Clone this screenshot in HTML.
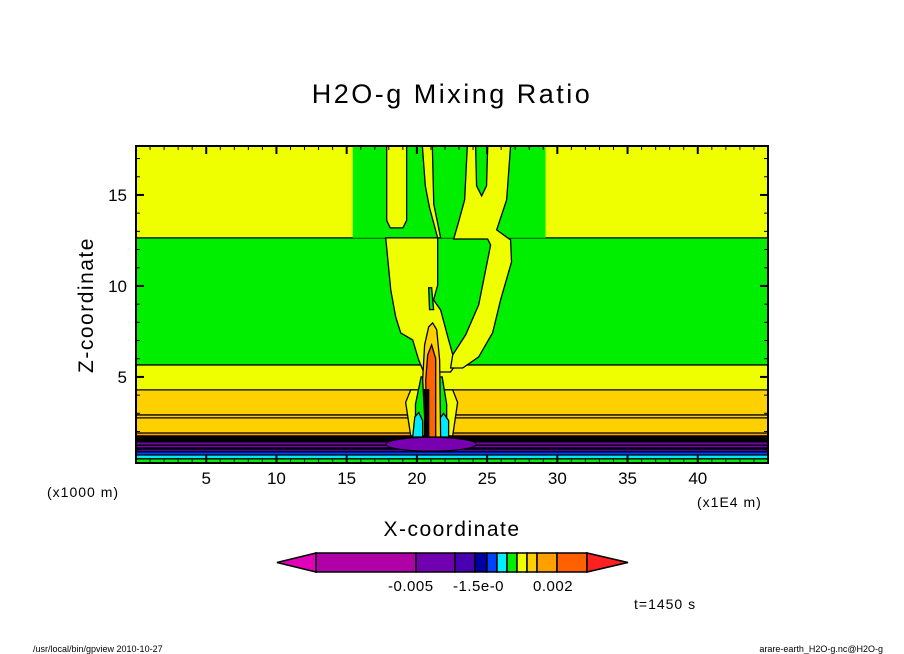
<!DOCTYPE html>
<html><head><meta charset="utf-8"><style>
html,body{margin:0;padding:0;background:#fff;}
svg{display:block;font-family:"Liberation Sans",sans-serif;}
</style></head><body>
<svg id="chart" width="904" height="654" viewBox="0 0 904 654" xmlns="http://www.w3.org/2000/svg">
<rect width="904" height="654" fill="#fff"/>
<text x="452" y="103" font-size="27" text-anchor="middle" letter-spacing="2.5">H2O-g Mixing Ratio</text>
<g id="plot"></g>
<g id="axes"></g>
<text x="47" y="497" font-size="14" letter-spacing="1">(x1000 m)</text>
<text x="697" y="507" font-size="14" letter-spacing="1">(x1E4 m)</text>
<text x="452" y="536" font-size="21" text-anchor="middle" letter-spacing="1.5">X-coordinate</text>
<text x="93" y="305" font-size="21" text-anchor="middle" letter-spacing="1.5" transform="rotate(-90 93 305)">Z-coordinate</text>
<g id="cbar"></g>
<text x="634" y="609" font-size="14" letter-spacing="1">t=1450 s</text>
<text x="33" y="652" font-size="9">/usr/local/bin/gpview  2010-10-27</text>
<text x="883" y="652" font-size="9" text-anchor="end">arare-earth_H2O-g.nc@H2O-g</text>
</svg>
<script>
// ---- data ----
const xTicks = [5,10,15,20,25,30,35,40];
const zTicks = [5,10,15];
const bandBottoms = [0.27,0.50,0.71,0.88,1.04,1.43,1.76,1.92,4.29,5.66,12.64];
const bandTops    = [0.50,0.71,0.88,1.04,1.43,1.76,1.92,4.29,5.66,12.64,17.69];
const bandColors  = ["#00ee00","#00e8ff","#0040ff","#4800a8","#7800b0","#000000","#ffa000","#ffd000","#f0ff00","#00ee00","#f0ff00"];
const extraLines = [2.75,2.91,1.10,1.25];
const topGreen = [[15.43,17.69],[29.16,17.69],[29.16,12.64],[15.43,12.64]];
const stripeA = [[17.85,17.69],[17.85,13.6],[18.1,13.19],[19.0,13.19],[19.27,13.6],[19.27,17.69]];
const stripeB = [[20.39,17.69],[21.1,17.69],[21.2,14.5],[21.69,12.64],[21.48,12.64],[20.9,14.3],[20.6,15.5]];
const stripeC = [[23.59,17.69],[24.18,17.69],[24.25,15.5],[24.61,14.95],[24.96,15.5],[25.04,17.69],[26.67,17.69],[26.39,14.73],[25.68,13.08],[26.67,12.53],[26.74,11.32],[25.96,9.23],[25.39,7.42],[24.40,6.10],[23.26,5.49],[22.40,5.49],[22.55,6.21],[23.47,7.31],[24.40,8.96],[25.25,12.25],[25.04,12.58],[22.62,12.58],[22.97,13.52],[23.40,14.73]];
const centerYellow = [[17.78,12.64],[21.48,12.64],[21.48,10.05],[21.19,9.23],[21.69,8.68],[22.26,7.03],[22.76,5.66],[22.4,5.27],[20.48,5.27],[20.13,5.93],[19.70,7.03],[18.85,7.42],[18.49,8.30],[18.14,9.78]];
const greenStrip = [[20.84,9.9],[21.05,9.9],[21.19,8.7],[20.9,8.7]];
const bandZoneYellow = [[19.56,1.76],[19.2,3.6],[19.56,4.29],[22.55,4.29],[22.9,3.6],[22.55,1.76]];
const greenCenter = [[19.9,1.76],[19.9,3.5],[20.3,5.0],[21.8,5.0],[22.12,3.5],[22.12,1.76]];
const cyanLeft = [[19.70,1.70],[19.85,2.8],[20.13,3.05],[20.41,2.6],[20.41,1.70]];
const cyanRight = [[21.55,1.70],[21.62,2.7],[21.9,3.0],[22.26,2.6],[22.26,1.70]];
const plumeGold = [[20.63,1.70],[20.41,4.84],[20.55,6.76],[20.84,7.75],[21.12,7.97],[21.41,7.6],[21.62,5.93],[21.69,1.70]];
const plumeOrange = [[20.70,1.70],[20.63,4.84],[20.77,6.21],[21.05,6.76],[21.34,6.0],[21.34,1.70]];
const plumeBlack = [[20.55,1.70],[20.55,4.3],[20.84,4.3],[20.84,1.70]];
const purpleBlob = [21.0,1.30,3.2,0.38];
const cbarColors = ["#b000a8","#7000b0","#4800b0","#0000a0","#0040ff","#00f0ff","#00ee00","#f0ff00","#ffd000","#ffa000","#ff6000"];
const cbarWidths = [100,39,20,12,10,10,10,10,10,20,30];
const cbarLabels = ["-0.005","-1.5e-0","0.002"];
const cbarLabelX = [388,453,533];

// ---- scales ----
const X0=136, X1=768, Y0=146, Y1=463;
const xMin=0, xMax=45, zMin=0.27, zMax=17.69;
const X = v => X0 + (v-xMin)/(xMax-xMin)*(X1-X0);
const Z = v => Y1 - (v-zMin)/(zMax-zMin)*(Y1-Y0);
const NS="http://www.w3.org/2000/svg";
function mk(tag, attrs, parent){const e=document.createElementNS(NS,tag);for(const k in attrs)e.setAttribute(k,attrs[k]);parent.appendChild(e);return e;}
const plot=document.getElementById('plot');
const axes=document.getElementById('axes');
const cbar=document.getElementById('cbar');

bandColors.forEach((c,i)=>{
  const r=mk('rect',{x:X0,y:Z(bandTops[i]),width:X1-X0,height:Z(bandBottoms[i])-Z(bandTops[i]),fill:c},plot);
  
  
});
bandBottoms.forEach(b=>{
  const l=mk('line',{x1:X0,x2:X1,y1:Z(b),y2:Z(b),stroke:"#000","stroke-width":1.3},plot);
  
  
});
extraLines.forEach(b=>{
  const l=mk('line',{x1:X0,x2:X1,y1:Z(b),y2:Z(b),stroke:"#000","stroke-width":1.3},plot);
  
  
});
function poly(pts,fill,name,stroke){
  const p=mk('polygon',{points:pts.map(q=>X(q[0])+','+Z(q[1])).join(' '),fill:fill,stroke:stroke||"#000","stroke-width":1.3},plot);
  
  
}
poly(topGreen,"#00ee00","upper-green-region","none");
poly(stripeA,"#f0ff00","yellow-stripe-a");
poly(stripeB,"#f0ff00","yellow-stripe-b");
poly(bandZoneYellow,"#f0ff00","center-band-yellow");
poly(centerYellow,"#f0ff00","center-yellow-region");
poly(stripeC,"#f0ff00","right-yellow-region");
poly(greenStrip,"#00ee00","green-strip");
poly(greenCenter,"#00ee00","center-green-region");
poly(cyanLeft,"#00e8ff","cyan-left");
poly(cyanRight,"#00e8ff","cyan-right");
const pb=mk('ellipse',{cx:X(purpleBlob[0]),cy:Z(purpleBlob[1]),rx:X(purpleBlob[0]+purpleBlob[2])-X(purpleBlob[0]),ry:Z(purpleBlob[1])-Z(purpleBlob[1]+purpleBlob[3]),fill:"#7800b0",stroke:"#000","stroke-width":1},plot);


poly(plumeGold,"#ffd000","plume-outer");
poly(plumeOrange,"#ff6400","plume-core");
poly(plumeBlack,"#000","plume-edge");

// axes frame
const fr=mk('rect',{x:X0,y:Y0,width:X1-X0,height:Y1-Y0,fill:"none",stroke:"#000","stroke-width":2},axes);


for(let v=1;v<45;v++){
  const len = v%5===0?8:4;
  mk('line',{x1:X(v),x2:X(v),y1:Y1,y2:Y1-len,stroke:"#000","stroke-width":v%5===0?2:1},axes);
  mk('line',{x1:X(v),x2:X(v),y1:Y0,y2:Y0+len,stroke:"#000","stroke-width":v%5===0?2:1},axes);
}
for(let v=1;v<=17;v++){
  const len = v%5===0?8:4;
  mk('line',{x1:X0,x2:X0+len,y1:Z(v),y2:Z(v),stroke:"#000","stroke-width":v%5===0?2:1},axes);
  mk('line',{x1:X1,x2:X1-len,y1:Z(v),y2:Z(v),stroke:"#000","stroke-width":v%5===0?2:1},axes);
}
xTicks.forEach(v=>{
  const t=mk('text',{x:X(v),y:484,"font-size":17,"text-anchor":"middle"},axes);
  t.textContent=v;
  
  
});
zTicks.forEach(v=>{
  const t=mk('text',{x:127,y:Z(v)+6,"font-size":17,"text-anchor":"end"},axes);
  t.textContent=v;
  
  
});

// colorbar
const cy0=553, cy1=572;
const lt=mk('polygon',{points:`277,${(cy0+cy1)/2} 316,${cy0} 316,${cy1}`,fill:"#e000b8",stroke:"#000","stroke-width":1.5},cbar);


let cx=316;
cbarColors.forEach((c,i)=>{
  const r=mk('rect',{x:cx,y:cy0,width:cbarWidths[i],height:cy1-cy0,fill:c,stroke:"#000","stroke-width":1.5},cbar);
  
  
  cx+=cbarWidths[i];
});
const rt=mk('polygon',{points:`${cx},${cy0} ${cx},${cy1} 628,${(cy0+cy1)/2}`,fill:"#ff2020",stroke:"#000","stroke-width":1.5},cbar);


cbarLabels.forEach((s,i)=>{
  const t=mk('text',{x:cbarLabelX[i],y:591,"font-size":15,"letter-spacing":"0.5"},cbar);
  t.textContent=s;
  
  
});
</script>
</body></html>
